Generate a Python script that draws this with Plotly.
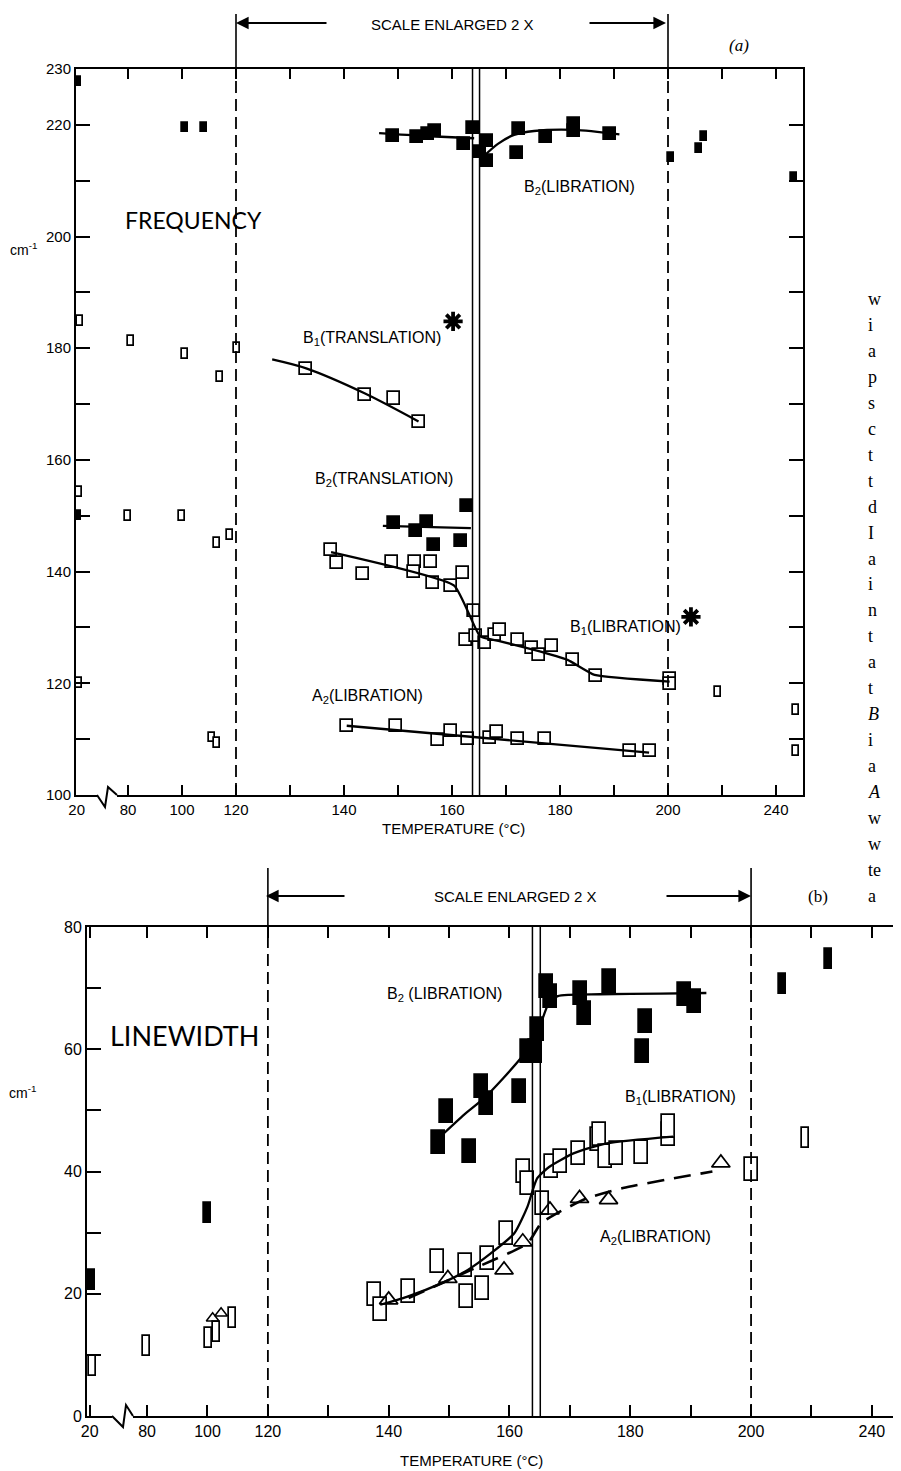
import numpy as np
import plotly.graph_objects as go

W, H = 901, 1471
OFF = 8  # the page body adds an 8 px margin; layout pixels below are page pixels

# broken / enlarged temperature axis: 20 | 80..120 normal, 120..200 enlarged 2x, 200.. normal
TEMP_KNOTS = [20, 80, 120, 200, 260]
AXIS_KNOTS = [61, 80, 120, 280, 340]

X_TICK_TEMPS = [20, 80, 100, 120, 130, 140, 150, 160, 170, 180, 190, 200, 220, 240]
X_TICK_TEXT = ['20', '80', '100', '120', '', '140', '', '160', '', '180', '', '200', '', '240']
A_Y_TICKS = [100, 110, 120, 130, 140, 150, 160, 170, 180, 190, 200, 210, 220, 230]
A_Y_TEXT = ['100', '', '120', '', '140', '', '160', '', '180', '', '200', '', '220', '230']
B_Y_TICKS = [0, 10, 20, 30, 40, 50, 60, 70, 80]
B_Y_TEXT = ['0', '', '20', '', '40', '', '60', '', '80']
TRANSITION_T = [163.8, 165.1]
SCALE_LIMITS_T = [120, 200]

# ---------------- panel (a): FREQUENCY ----------------
A_B2LIB_T = [149.0, 153.6, 155.5, 156.9, 162.2, 163.8, 165.2, 166.5, 166.5, 172.0, 172.4, 177.4, 182.5, 182.6, 189.3]
A_B2LIB_V = [218.0, 217.9, 218.3, 218.9, 216.6, 219.4, 215.1, 217.1, 213.6, 214.9, 219.2, 217.8, 220.1, 218.9, 218.3]
A_B2LIB_FIT1_T = [146.5, 154.9, 164.1]
A_B2LIB_FIT1_V = [218.5, 218.0, 217.6]
A_B2LIB_FIT2_T = [166.0, 168.5, 171.5, 175.2, 182.6, 191.0]
A_B2LIB_FIT2_V = [214.5, 216.6, 218.2, 218.9, 219.1, 218.3]

A_B1TR_T = [133.0, 143.9, 149.2, 153.8]
A_B1TR_V = [176.3, 171.6, 171.0, 166.8]
A_B1TR_FIT_T = [126.7, 133.0, 143.9, 153.8]
A_B1TR_FIT_V = [178.0, 176.4, 171.9, 166.9]

A_B2TR_T = [149.3, 153.3, 155.4, 156.6, 161.7, 162.8]
A_B2TR_V = [148.7, 147.2, 148.9, 144.7, 145.5, 151.8]
A_B2TR_FIT_T = [147.2, 163.5]
A_B2TR_FIT_V = [148.2, 147.8]

A_B1LIB_T = [137.6, 138.7, 143.5, 148.9, 153.2, 153.0, 156.1, 156.5, 159.8, 162.0, 164.0, 162.5, 164.4, 166.1,
             168.0, 168.9, 172.2, 174.8, 176.1, 178.6, 182.4, 186.7, 200.9, 200.6]
A_B1LIB_V = [143.8, 141.5, 139.6, 141.7, 141.7, 139.9, 141.8, 138.0, 137.5, 139.8, 133.0, 127.7, 128.4, 127.3,
             128.6, 129.5, 127.8, 126.4, 125.0, 126.6, 124.1, 121.3, 120.7, 119.8]
A_B1LIB_FIT_T = [137.6, 160.4, 165.2, 168.6, 175.2, 181.4, 186.4, 200.6]
A_B1LIB_FIT_V = [143.5, 137.5, 128.4, 127.6, 126.0, 124.2, 121.5, 120.3]

A_A2LIB_T = [140.5, 149.6, 157.4, 159.8, 163.0, 167.1, 168.3, 172.3, 177.2, 193.0, 196.7]
A_A2LIB_V = [112.3, 112.4, 109.9, 111.4, 110.0, 110.2, 111.2, 110.0, 110.0, 107.8, 107.8]
A_A2LIB_FIT_T = [140.5, 196.5]
A_A2LIB_FIT_V = [112.4, 107.6]

A_STAR_T = [160.2, 208.5]
A_STAR_V = [184.8, 131.9]

A_OUT_FILLED_T = [22, 101, 108, 22, 201, 211.5, 213.3, 246.7]
A_OUT_FILLED_V = [227.7, 219.6, 219.6, 150.0, 214.2, 215.7, 218.0, 210.6]
A_OUT_OPEN_T = [24, 81, 101, 114, 120.2, 23, 80, 100, 113, 117.6, 23, 111, 112.8, 218.4, 247.4, 247.4]
A_OUT_OPEN_V = [184.8, 181.3, 178.9, 174.9, 180.0, 154.2, 150.0, 150.0, 145.2, 146.5, 120.0, 110.3, 109.3,
                118.5, 115.2, 107.9]

# ---------------- panel (b): LINEWIDTH ----------------
B_B2LIB_T = [148.3, 149.6, 153.4, 155.4, 156.2, 161.7, 163.0, 164.3, 164.7, 166.1, 166.8, 171.7, 172.5, 176.6,
             182.6, 182.0, 189.0, 190.6]
B_B2LIB_V = [44.7, 49.8, 43.3, 53.9, 51.2, 53.1, 59.6, 59.7, 63.2, 70.3, 68.6, 69.2, 65.9, 71.1, 64.5, 59.6,
             68.9, 67.8]
B_B2LIB_FIT_T = [149.2, 152.5, 155.8, 159.0, 162.1, 164.3, 165.4, 166.5, 168.0, 175.0, 185.0, 192.6]
B_B2LIB_FIT_V = [46.3, 49.3, 52.0, 55.3, 58.8, 61.8, 64.8, 67.5, 68.7, 69.0, 69.1, 69.2]

B_B1LIB_T = [137.6, 138.7, 143.3, 148.1, 152.7, 152.9, 155.6, 156.4, 159.5, 162.4, 163.0, 165.4, 166.9, 168.4,
             171.4, 174.5, 174.9, 175.9, 177.7, 181.9, 186.3, 186.4, 200.0]
B_B1LIB_V = [19.8, 17.5, 20.3, 25.3, 24.7, 19.5, 20.9, 25.8, 29.9, 40.0, 38.1, 34.7, 40.8, 41.6, 42.9, 45.2,
             46.0, 42.4, 43.0, 43.1, 46.0, 47.3, 40.3]
B_B1LIB_FIT_T = [138.6, 143.0, 148.7, 153.1, 156.9, 160.8, 163.0, 163.8, 164.6, 166.5, 170.7, 176.1, 187.1]
B_B1LIB_FIT_V = [18.2, 19.5, 21.7, 23.9, 26.6, 29.9, 34.3, 36.8, 38.9, 40.7, 43.0, 44.6, 45.7]

B_A2LIB_T = [140.0, 149.8, 159.1, 162.2, 166.7, 171.6, 176.4, 195.0]
B_A2LIB_V = [19.0, 22.5, 23.9, 28.5, 33.7, 35.6, 35.4, 41.4]
B_A2LIB_FIT_T = [143.3, 154.3, 163.0, 165.2, 167.9, 172.8, 178.8, 193.6]
B_A2LIB_FIT_V = [19.3, 24.2, 28.3, 31.5, 33.2, 35.6, 37.3, 40.0]

B_OUT_FILLED_T = [22, 100, 210.5, 225.5]
B_OUT_FILLED_V = [22.3, 33.2, 70.7, 74.8]
B_OUT_OPEN_T = [23, 79.3, 100.3, 102.9, 108.4, 217.9]
B_OUT_OPEN_V = [8.1, 11.5, 12.7, 13.7, 16.0, 45.5]
B_OUT_TRI_T = [101.7, 104.5]
B_OUT_TRI_V = [16.0, 16.8]

# neighbouring column of the printed page (cut at the right edge)
SIDE_TEXT = ['w', 'i', 'a', 'p', 's', 'c', 't', 't', 'd', 'I', 'a', 'i', 'n', 't', 'a', 't', '<i>B</i>', 'i',
             'a', '<i>A</i>', 'w', 'w', 'te', 'a']

# ---------------- geometry (page pixels) ----------------
A_L, A_R, A_T, A_B = 76, 803, 69, 795
B_L, B_R, B_T, B_B = 87, 909, 927, 1416
A_XRANGE = [60.74, 330.0]
B_XRANGE = [60.1, 332.3]


def pos(T):
    return np.interp(np.asarray(T, float), TEMP_KNOTS, AXIS_KNOTS)


def px(x):
    return (x - OFF) / W


def py(y):
    return 1 - (y - OFF) / H


def boxes(T, v, w, h, filled, xa, ya):
    v = np.asarray(v, float)
    return go.Bar(x=pos(T), y=np.full(len(v), h), base=v - h / 2, width=w,
                  marker=dict(color='black' if filled else 'white', line=dict(color='black', width=1.7)),
                  xaxis=xa, yaxis=ya, showlegend=False, hoverinfo='skip')


def curve(T, v, xa, ya, dash='solid', shape='spline', width=2.3, smooth=0.8):
    ln = dict(color='black', width=width, dash=dash, shape=shape)
    if shape == 'spline':
        ln['smoothing'] = smooth
    return go.Scatter(x=pos(T), y=v, mode='lines', line=ln, xaxis=xa, yaxis=ya,
                      showlegend=False, hoverinfo='skip')


def symbols(T, v, symbol, size, lw, xa, ya):
    return go.Scatter(x=pos(T), y=v, mode='markers', xaxis=xa, yaxis=ya,
                      marker=dict(symbol=symbol, size=size, color='black', line=dict(color='black', width=lw)),
                      showlegend=False, hoverinfo='skip')


fig = go.Figure()

# panel (a) symbols: enlarged region squares, compressed-region narrow boxes
AW, AH = 12 / 2.7, 12 / 5.58
ANW, ANH = 6 / 2.7, 9 / 5.58
fig.add_trace(boxes(A_B2LIB_T, A_B2LIB_V, AW, AH, True, 'x', 'y'))
fig.add_trace(boxes(A_B2TR_T, A_B2TR_V, AW, AH, True, 'x', 'y'))
fig.add_trace(boxes(A_B1TR_T, A_B1TR_V, AW, AH, False, 'x', 'y'))
fig.add_trace(boxes(A_B1LIB_T, A_B1LIB_V, AW, AH, False, 'x', 'y'))
fig.add_trace(boxes(A_A2LIB_T, A_A2LIB_V, AW, AH, False, 'x', 'y'))
fig.add_trace(boxes(A_OUT_FILLED_T, A_OUT_FILLED_V, ANW, ANH, True, 'x', 'y'))
fig.add_trace(boxes(A_OUT_OPEN_T, A_OUT_OPEN_V, ANW, ANH * 1.1, False, 'x', 'y'))

fig.add_trace(curve(A_B2LIB_FIT1_T, A_B2LIB_FIT1_V, 'x', 'y'))
fig.add_trace(curve(A_B2LIB_FIT2_T, A_B2LIB_FIT2_V, 'x', 'y'))
fig.add_trace(curve(A_B1TR_FIT_T, A_B1TR_FIT_V, 'x', 'y'))
fig.add_trace(curve(A_B2TR_FIT_T, A_B2TR_FIT_V, 'x', 'y', shape='linear'))
fig.add_trace(curve(A_B1LIB_FIT_T, A_B1LIB_FIT_V, 'x', 'y', shape='spline', smooth=0.4))
fig.add_trace(curve(A_A2LIB_FIT_T, A_A2LIB_FIT_V, 'x', 'y', shape='linear'))
fig.add_trace(symbols(A_STAR_T, A_STAR_V, 'asterisk-open', 16, 3.8, 'x', 'y'))

# panel (b) symbols: tall boxes
BW, BH = 13 / 3.02, 23 / 6.11
BNW, BNH = 7 / 3.02, 20 / 6.11
fig.add_trace(boxes(B_B2LIB_T, B_B2LIB_V, BW, BH, True, 'x2', 'y2'))
fig.add_trace(boxes(B_B1LIB_T, B_B1LIB_V, BW, BH, False, 'x2', 'y2'))
fig.add_trace(boxes(B_OUT_FILLED_T, B_OUT_FILLED_V, BNW, BNH, True, 'x2', 'y2'))
fig.add_trace(boxes(B_OUT_OPEN_T, B_OUT_OPEN_V, BNW, BNH, False, 'x2', 'y2'))
fig.add_trace(curve(B_B2LIB_FIT_T, B_B2LIB_FIT_V, 'x2', 'y2', smooth=0.6))
fig.add_trace(curve(B_B1LIB_FIT_T, B_B1LIB_FIT_V, 'x2', 'y2', smooth=0.6))
fig.add_trace(curve(B_A2LIB_FIT_T, B_A2LIB_FIT_V, 'x2', 'y2', dash='17px,10px', smooth=0.6, width=2.6))
fig.add_trace(symbols(B_A2LIB_T, B_A2LIB_V, 'triangle-up-open', 16, 1.7, 'x2', 'y2'))
fig.add_trace(symbols(B_OUT_TRI_T, B_OUT_TRI_V, 'triangle-up-open', 11, 1.5, 'x2', 'y2'))

TICKFONT = dict(family='Liberation Sans, Arial, sans-serif', size=15, color='black')
xcommon = dict(tickmode='array', tickvals=pos(X_TICK_TEMPS), ticktext=X_TICK_TEXT, ticks='inside',
               tickwidth=2, tickcolor='black', showline=True, linewidth=2, linecolor='black', mirror='ticks',
               showgrid=False, zeroline=False, tickangle=0, automargin=False, fixedrange=True)
ycommon = dict(tickmode='array', ticks='inside', tickwidth=2, tickcolor='black', showline=True, linewidth=2,
               linecolor='black', mirror='ticks', showgrid=False, zeroline=False, automargin=False)

fig.update_layout(
    width=W, height=H, margin=dict(l=0, r=0, t=0, b=0), template='none',
    paper_bgcolor='white', plot_bgcolor='white', barmode='overlay', bargap=0, showlegend=False,
    xaxis=dict(domain=[px(A_L), px(A_R)], range=A_XRANGE, anchor='y', ticklen=10, tickfont=TICKFONT, **xcommon),
    yaxis=dict(domain=[py(A_B), py(A_T)], range=[100, 230], anchor='x', tickvals=A_Y_TICKS, ticktext=A_Y_TEXT,
               ticklen=14, tickfont=TICKFONT, **ycommon),
    xaxis2=dict(domain=[px(B_L), min(1.0, px(B_R))], range=B_XRANGE, anchor='y2', ticklen=11,
                tickfont=dict(TICKFONT, size=16), **xcommon),
    yaxis2=dict(domain=[py(B_B), py(B_T)], range=[0, 80], anchor='x2', tickvals=B_Y_TICKS, ticktext=B_Y_TEXT,
                ticklen=14, tickfont=dict(TICKFONT, size=16), **ycommon),
)

shapes = []
# scale-limit verticals: dashed inside the panels, solid bracket above
for xa, top, bot, brtop in (('x', A_T, A_B, 14), ('x2', B_T, B_B, 868)):
    for T in SCALE_LIMITS_T:
        shapes.append(dict(type='line', xref=xa, yref='paper', x0=float(pos(T)), x1=float(pos(T)),
                           y0=py(bot), y1=py(top), line=dict(color='black', width=1.8, dash='12px,6px')))
        shapes.append(dict(type='line', xref=xa, yref='paper', x0=float(pos(T)), x1=float(pos(T)),
                           y0=py(top), y1=py(brtop), line=dict(color='black', width=1.6)))
    for T in TRANSITION_T:
        shapes.append(dict(type='line', xref=xa, yref='paper', x0=float(pos(T)), x1=float(pos(T)),
                           y0=py(bot), y1=py(top), line=dict(color='black', width=1.5)))

# axis break zig-zags
for (x0, x1, xa, xb, xc, yb, d1, d2) in ((97, 117, 105, 108, 117, A_B, 12, -8),
                                           (112, 133, 123, 126, 133, B_B, 11, -11)):
    shapes.append(dict(type='rect', xref='paper', yref='paper', x0=px(x0), x1=px(x1), y0=py(yb + 2.5),
                       y1=py(yb - 2.5), fillcolor='white', line=dict(width=0), layer='above'))
    path = 'M {:.5f},{:.5f} L {:.5f},{:.5f} L {:.5f},{:.5f} L {:.5f},{:.5f}'.format(
        px(x0), py(yb), px(xa), py(yb + d1), px(xb), py(yb + d2), px(xc), py(yb))
    shapes.append(dict(type='path', xref='paper', yref='paper', path=path,
                       line=dict(color='black', width=2), layer='above'))
fig.update_layout(shapes=shapes)

LAB = dict(family='Liberation Sans, Arial, sans-serif', size=16, color='black')
ann = []


def text(x, y, s, font=LAB, xanchor='center'):
    ann.append(dict(x=px(x), y=py(y), xref='paper', yref='paper', text=s, showarrow=False, font=font,
                    xanchor=xanchor, yanchor='middle'))


def arrow(tipx, y, dx):
    ann.append(dict(x=px(tipx), y=py(y), xref='paper', yref='paper', text='', showarrow=True, ax=dx, ay=0,
                    arrowhead=2, arrowsize=1.4, arrowwidth=1.8, arrowcolor='black', standoff=0))


# panel (a) labels
text(193, 220, 'FREQUENCY', dict(family='Lato, Liberation Sans, sans-serif', size=23, color='black'))
text(579, 187, 'B<sub>2</sub>(LIBRATION)')
text(372, 338, 'B<sub>1</sub>(TRANSLATION)')
text(384, 480, 'B<sub>2</sub>(TRANSLATION)')
text(625, 628, 'B<sub>1</sub>(LIBRATION)')
text(367, 696, 'A<sub>2</sub>(LIBRATION)')
text(23, 249, 'cm<sup>-1</sup>', dict(LAB, size=14))
text(453, 829, 'TEMPERATURE (°C)', dict(LAB, size=15))
text(452, 24, 'SCALE ENLARGED 2 X', dict(LAB, size=15))
text(739, 46, '<i>(a)</i>', dict(family='Liberation Serif, serif', size=17, color='black'))
arrow(236, 23, 92)
arrow(666, 23, -78)

# panel (b) labels
text(184, 1035, 'LINEWIDTH', dict(family='Lato, Liberation Sans, sans-serif', size=27, color='black'))
text(444, 995, 'B<sub>2</sub> (LIBRATION)')
text(680, 1097, 'B<sub>1</sub>(LIBRATION)')
text(655, 1237, 'A<sub>2</sub>(LIBRATION)')
text(22, 1092, 'cm<sup>-1</sup>', dict(LAB, size=14))
text(471, 1460, 'TEMPERATURE (°C)', dict(LAB, size=15))
text(516, 896, 'SCALE ENLARGED 2 X', dict(LAB, size=15))
text(818, 896, '(b)', dict(family='Liberation Serif, serif', size=17, color='black'))
arrow(266, 896, 80)
arrow(751, 896, -86)

# neighbouring printed column
for i, s in enumerate(SIDE_TEXT):
    text(866, 299 + i * 25.95, s, dict(family='Liberation Serif, serif', size=18, color='black'), xanchor='left')

fig.update_layout(annotations=ann)
fig.write_html('out.html')
